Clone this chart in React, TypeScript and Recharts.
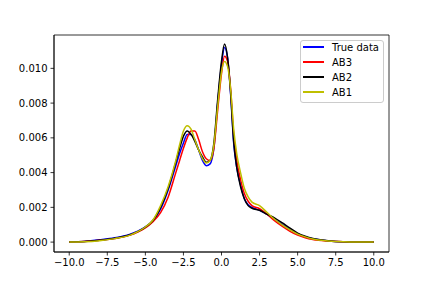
import { LineChart, Line, XAxis, YAxis, ReferenceArea } from "recharts";

// x positions (shared by all series)
const xs = [
  -10, -9, -8, -7, -6, -5.5, -5, -4.5, -4, -3.5, -3, -2.75, -2.5, -2.25, -2,
  -1.75, -1.5, -1.25, -1, -0.75, -0.5, -0.25, 0, 0.2, 0.4, 0.6, 0.8, 1, 1.25,
  1.5, 1.75, 2, 2.5, 3, 3.5, 4, 4.5, 5, 5.5, 6, 7, 8, 9, 10,
];

const trueData = [
  0.00001, 0.00004, 0.00013, 0.00025, 0.00046, 0.00063, 0.00088, 0.00124,
  0.0019, 0.003, 0.0044, 0.0051, 0.0057, 0.0062, 0.0062, 0.0059, 0.0053,
  0.0047, 0.0044, 0.0045, 0.0054, 0.008, 0.0102, 0.0112, 0.0106, 0.0085,
  0.0057, 0.0043, 0.0033, 0.0025, 0.00215, 0.002, 0.00183, 0.0016, 0.0013,
  0.00102, 0.00074, 0.00048, 0.0003, 0.00019, 0.00007, 0.00002, 0.000005,
  0.000002,
];

const ab3 = [
  0.00001, 0.00003, 0.0001, 0.0002, 0.0004, 0.00058, 0.00082, 0.00118,
  0.0017, 0.0026, 0.004, 0.0047, 0.0054, 0.006, 0.0064, 0.0064, 0.0059,
  0.0052, 0.0048, 0.0047, 0.0054, 0.0076, 0.0097, 0.0107, 0.0104, 0.0088,
  0.0062, 0.0047, 0.0036, 0.0028, 0.00235, 0.0021, 0.00192, 0.0016, 0.00122,
  0.0009, 0.00062, 0.0004, 0.00025, 0.00015, 0.00006, 0.00002, 0.000005,
  0.000002,
];

const ab2 = [
  0.00001, 0.00003, 0.0001, 0.00022, 0.00042, 0.0006, 0.00086, 0.00124,
  0.002, 0.0031, 0.0046, 0.0054, 0.0061, 0.0064, 0.0062, 0.0058, 0.0053,
  0.0049, 0.0046, 0.0047, 0.0057, 0.0082, 0.0104, 0.0114, 0.0106, 0.0086,
  0.0058, 0.0043, 0.0032, 0.0025, 0.0021, 0.00195, 0.00183, 0.0016, 0.00138,
  0.0011, 0.0008, 0.00052, 0.00034, 0.00021, 0.00008, 0.00002, 0.000005,
  0.000002,
];

const ab1 = [
  0.000005, 0.00002, 0.00008, 0.0002, 0.0004, 0.0006, 0.00087, 0.00127,
  0.0021, 0.0032, 0.0047, 0.0056, 0.0064, 0.0067, 0.0065, 0.0059, 0.0053,
  0.0048, 0.00455, 0.0047, 0.0056, 0.0078, 0.0098, 0.0104, 0.0101, 0.0088,
  0.0065, 0.0051, 0.004, 0.0031, 0.0026, 0.0023, 0.0021, 0.0017, 0.0013,
  0.00098, 0.0007, 0.00046, 0.0003, 0.00018, 0.00007, 0.00002, 0.000005,
  0.000002,
];

const xTicks = [-10, -7.5, -5, -2.5, 0, 2.5, 5, 7.5, 10];
const yTicks = [0, 0.002, 0.004, 0.006, 0.008, 0.01];

const series = [
  { key: "trueData", name: "True data", color: "#0000ff" },
  { key: "ab3", name: "AB3", color: "#ff0000" },
  { key: "ab2", name: "AB2", color: "#000000" },
  { key: "ab1", name: "AB1", color: "#bfbf00" },
];

const data = xs.map((x, i) => ({
  x,
  trueData: trueData[i],
  ab3: ab3[i],
  ab2: ab2[i],
  ab1: ab1[i],
}));

const X_DOMAIN = [-11, 11];
const Y_DOMAIN = [-0.00057, 0.01192];
const FONT = "'DejaVu Sans', sans-serif";
const TICK_STYLE = { fontSize: 10, fill: "#000", fontFamily: FONT };

const fmtX = (v: number) => v.toFixed(1).replace("-", "\u2212");
const fmtY = (v: number) => v.toFixed(3);

export default function App() {
  return (
    <div
      style={{
        position: "absolute",
        left: 0,
        top: 0,
        width: 432,
        height: 288,
        background: "#fff",
      }}
    >
      <LineChart
        width={432}
        height={288}
        data={data}
        margin={{ top: 35, right: 43, left: 0, bottom: 0 }}
      >
        <XAxis
          dataKey="x"
          type="number"
          domain={X_DOMAIN}
          ticks={xTicks}
          tickFormatter={fmtX}
          tick={TICK_STYLE}
          tickSize={3.5}
          tickMargin={3}
          stroke="#000"
          strokeWidth={0.8}
          height={36}
          allowDataOverflow
        />
        <YAxis
          type="number"
          domain={Y_DOMAIN}
          ticks={yTicks}
          tickFormatter={fmtY}
          tick={TICK_STYLE}
          tickSize={3.5}
          tickMargin={3}
          stroke="#000"
          strokeWidth={0.8}
          width={54}
          allowDataOverflow
        />
        <ReferenceArea
          x1={-11}
          x2={11}
          y1={Y_DOMAIN[0]}
          y2={Y_DOMAIN[1]}
          fill="none"
          stroke="#000"
          strokeWidth={0.8}
        />
        {series.map((s) => (
          <Line
            key={s.key}
            type="monotone"
            dataKey={s.key}
            name={s.name}
            stroke={s.color}
            strokeWidth={1.5}
            dot={false}
            isAnimationActive={false}
          />
        ))}
      </LineChart>
      <div
        style={{
          position: "absolute",
          left: 300,
          top: 40,
          width: 84,
          height: 63,
          border: "1px solid #cccccc",
          borderRadius: 3,
          background: "rgba(255,255,255,0.8)",
          boxSizing: "border-box",
          fontFamily: FONT,
          fontSize: 10,
        }}
      >
        {series.map((s, i) => (
          <div
            key={s.key}
            style={{
              position: "absolute",
              left: 2,
              top: -1 + i * 15,
              height: 14,
              display: "flex",
              alignItems: "center",
            }}
          >
            <span
              style={{
                display: "inline-block",
                width: 21,
                height: 2,
                background: s.color,
                marginRight: 8,
              }}
            />
            <span>{s.name}</span>
          </div>
        ))}
      </div>
    </div>
  );
}
